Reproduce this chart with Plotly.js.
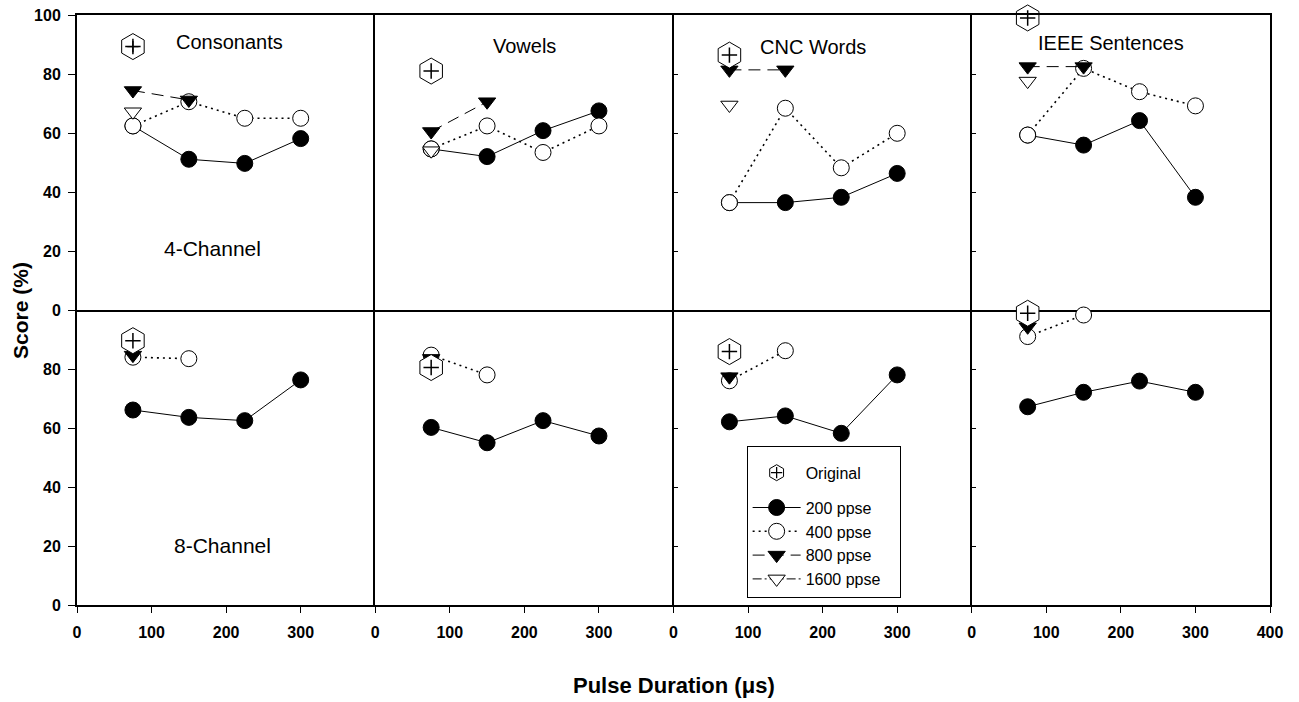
<!DOCTYPE html>
<html>
<head>
<meta charset="utf-8">
<script src="https://cdn.plot.ly/plotly-3.0.1.min.js"></script>
<style>html,body{margin:0;padding:0;background:#fff;}#chart{width:1299px;height:702px;}</style>
</head>
<body>
<div id="chart"></div>
<script>
// ---- data ----
const durations = [75, 150, 225, 300];
const panelTitles = ['Consonants', 'Vowels', 'CNC Words', 'IEEE Sentences'];
const rowLabels = ['4-Channel', '8-Channel'];
const yTicksTop = [0, 20, 40, 60, 80, 100];
const yTicksBottom = [0, 20, 40, 60, 80];
const xTicks = [0, 100, 200, 300];
const xTicksLast = [0, 100, 200, 300, 400];

// 4-channel (top row): one inner array per panel
const orig4 = [89.3, 81.0, 86.4, 99.0];
const ch4_200 = [[62.4, 51.1, 49.7, 58.1], [54.6, 52.0, 60.8, 67.5], [36.4, 36.4, 38.2, 46.3], [59.3, 55.9, 64.2, 38.2]];
const ch4_400 = [[62.4, 70.6, 65.0, 65.0], [54.6, 62.4, 53.4, 62.4], [36.4, 68.4, 48.2, 59.9], [59.3, 81.9, 74.0, 69.2]];
const ch4_800 = [[74.4, 71.2], [60.5, 70.6], [81.4, 81.4], [82.5, 82.5]];
const ch4_1600 = [[67.2], [54.0], [69.5], [77.6]];

// 8-channel (bottom row)
const orig8 = [89.6, 80.5, 85.9, 98.9];
const ch8_200 = [[66.1, 63.6, 62.5, 76.3], [60.2, 55.0, 62.5, 57.3], [62.1, 64.1, 58.2, 78.0], [67.2, 72.1, 75.9, 72.1]];
const ch8_400 = [[84.0, 83.5], [84.7, 78.0], [76.0, 86.2], [91.0, 98.3]];
const ch8_800 = [[84.7], [83.6], [77.4], [94.3]];
const ch8_1600 = [[], [], [], []];

// ---- styles ----
const FONT = 'Arial, "Liberation Sans", sans-serif';
const series = [
  {name: '200 ppse', rank: 2, line: {color: 'black', width: 1}, marker: {symbol: 'circle', size: 16, color: 'black', line: {color: 'black', width: 1}}},
  {name: '400 ppse', rank: 3, line: {color: 'black', width: 1.6, dash: '2px,4px'}, marker: {symbol: 'circle', size: 16, color: 'white', line: {color: 'black', width: 1}}},
  {name: '800 ppse', rank: 4, line: {color: 'black', width: 1, dash: '12px,7px'}, marker: {symbol: 'triangle-down', size: 15, color: 'black', line: {color: 'black', width: 1}}},
  {name: '1600 ppse\u00a0\u00a0\u00a0', rank: 5, line: {color: 'black', width: 1, dash: '9px,3px,2px,3px'}, marker: {symbol: 'triangle-down', size: 15, color: 'white', line: {color: 'black', width: 1}}}
];

const rows = [
  {orig: orig4, sets: [ch4_200, ch4_400, ch4_800, ch4_1600]},
  {orig: orig8, sets: [ch8_200, ch8_400, ch8_800, ch8_1600]}
];

const legendBase = {
  x: 0.5613, y: 0.270, xanchor: 'left', yanchor: 'top',
  borderwidth: 1, traceorder: 'grouped', tracegroupgap: 11, itemwidth: 48,
  title: {text: ' ', font: {family: FONT, size: 7}}
};

const traces = [];
const layout = {
  width: 1299, height: 702,
  margin: {l: 77, r: 29, t: 15, b: 97},
  paper_bgcolor: 'white', plot_bgcolor: 'white',
  font: {family: FONT, color: 'black'},
  showlegend: true,
  legend: Object.assign({}, legendBase, {
    bgcolor: 'white', bordercolor: 'black',
    font: {family: FONT, size: 16, color: 'black'}
  }),
  // transparent overlay legend that adds the "+" inside the legend hexagon
  legend2: Object.assign({}, legendBase, {
    bgcolor: 'rgba(0,0,0,0)', bordercolor: 'rgba(0,0,0,0)',
    font: {family: FONT, size: 16, color: 'rgba(0,0,0,0)'}
  }),
  annotations: [],
  hovermode: false
};

rows.forEach((row, r) => {
  for (let c = 0; c < 4; c++) {
    const i = r * 4 + c + 1;
    const xa = 'x' + i, ya = 'y' + i;
    const first = (r === 0 && c === 0);
    series.forEach((s, k) => {
      const ys = row.sets[k][c];
      if (!ys.length) return;
      traces.push({
        type: 'scatter', mode: 'lines+markers', xaxis: xa, yaxis: ya,
        x: durations.slice(0, ys.length), y: ys,
        name: s.name, legendgroup: 'ppse', legendrank: s.rank, showlegend: first,
        line: s.line, marker: s.marker, cliponaxis: false
      });
    });
    // Original (hexagon with a cross inside)
    traces.push({
      type: 'scatter', mode: 'markers', xaxis: xa, yaxis: ya,
      x: [durations[0]], y: [row.orig[c]],
      name: 'Original', legendgroup: 'orig', legendrank: 1, showlegend: first,
      marker: {symbol: 'hexagon', size: 26, color: 'white', line: {color: 'black', width: 1}},
      cliponaxis: false
    });
    traces.push({
      type: 'scatter', mode: 'markers', xaxis: xa, yaxis: ya,
      x: [durations[0]], y: [row.orig[c]],
      name: 'Original', legendgroup: 'orig', showlegend: false,
      marker: {symbol: 'cross-thin-open', size: 11, color: 'black', line: {color: 'black', width: 1.5}},
      cliponaxis: false
    });

    const bottom = r === 1;
    layout['xaxis' + i] = {
      domain: [c / 4, (c + 1) / 4], anchor: ya, range: [0, 400],
      showline: true, mirror: !bottom, linecolor: 'black', linewidth: 2,
      showgrid: false, zeroline: false,
      tickmode: 'array', tickvals: bottom ? (c === 3 ? xTicksLast : xTicks) : [],
      ticks: bottom ? 'outside' : '', ticklen: 6, tickwidth: 1, tickcolor: 'black',
      showticklabels: bottom, ticklabelstandoff: 6,
      tickfont: {family: FONT, size: 16, color: 'black', weight: 'bold'}
    };
    const left = c === 0;
    const inner = c >= 2;
    layout['yaxis' + i] = {
      domain: r === 0 ? [0.5, 1] : [0, 0.5], anchor: xa, range: [0, 100],
      showline: true, mirror: c === 3, linecolor: 'black', linewidth: 2,
      showgrid: false, zeroline: false,
      tickmode: 'array', tickvals: left ? (r === 0 ? yTicksTop : yTicksBottom) : (inner ? yTicksTop.slice(1, 5) : []),
      ticks: left ? 'outside' : (inner ? 'inside' : ''), ticklen: left ? 7 : 4, tickwidth: 1, tickcolor: 'black',
      showticklabels: left, ticklabelstandoff: 4,
      tickfont: {family: FONT, size: 16, color: 'black', weight: 'bold'}
    };
  }
});

// smaller "+" that sits exactly on the first panel's "+" (hidden there) and
// supplies the cross for the legend hexagon through the transparent overlay legend
traces.push({
  type: 'scatter', mode: 'markers', xaxis: 'x1', yaxis: 'y1',
  x: [durations[0]], y: [orig4[0]],
  name: 'Original', legend: 'legend2', showlegend: true,
  marker: {symbol: 'cross-thin-open', size: 8, color: 'black', line: {color: 'black', width: 1.3}},
  cliponaxis: false
});

// panel titles (top row)
const titlePos = [[0.511, 0.909], [0.499, 0.895], [0.467, 0.893], [0.466, 0.904]];
panelTitles.forEach((t, c) => {
  layout.annotations.push({
    text: t, xref: 'x' + (c + 1) + ' domain', yref: 'y' + (c + 1) + ' domain',
    x: titlePos[c][0], y: titlePos[c][1], xanchor: 'center', yanchor: 'middle',
    showarrow: false, font: {family: FONT, size: 20, color: 'black'}
  });
});
// row labels
layout.annotations.push({
  text: rowLabels[0], xref: 'x1 domain', yref: 'y1 domain', x: 0.454, y: 0.209,
  xanchor: 'center', yanchor: 'middle', showarrow: false, font: {family: FONT, size: 21, color: 'black'}
});
layout.annotations.push({
  text: rowLabels[1], xref: 'x5 domain', yref: 'y5 domain', x: 0.488, y: 0.203,
  xanchor: 'center', yanchor: 'middle', showarrow: false, font: {family: FONT, size: 21, color: 'black'}
});
// axis titles
layout.annotations.push({
  text: 'Pulse Duration (μs)', xref: 'paper', yref: 'paper', x: 0.5, y: -0.137,
  xanchor: 'center', yanchor: 'middle', showarrow: false,
  font: {family: FONT, size: 22, color: 'black', weight: 'bold'}
});
layout.annotations.push({
  text: 'Score (%)', xref: 'paper', yref: 'paper', x: -0.0478, y: 0.5, textangle: -90,
  xanchor: 'center', yanchor: 'middle', showarrow: false,
  font: {family: FONT, size: 21, color: 'black', weight: 'bold'}
});

Plotly.newPlot('chart', traces, layout, {displayModeBar: false, staticPlot: true});
</script>
</body>
</html>
